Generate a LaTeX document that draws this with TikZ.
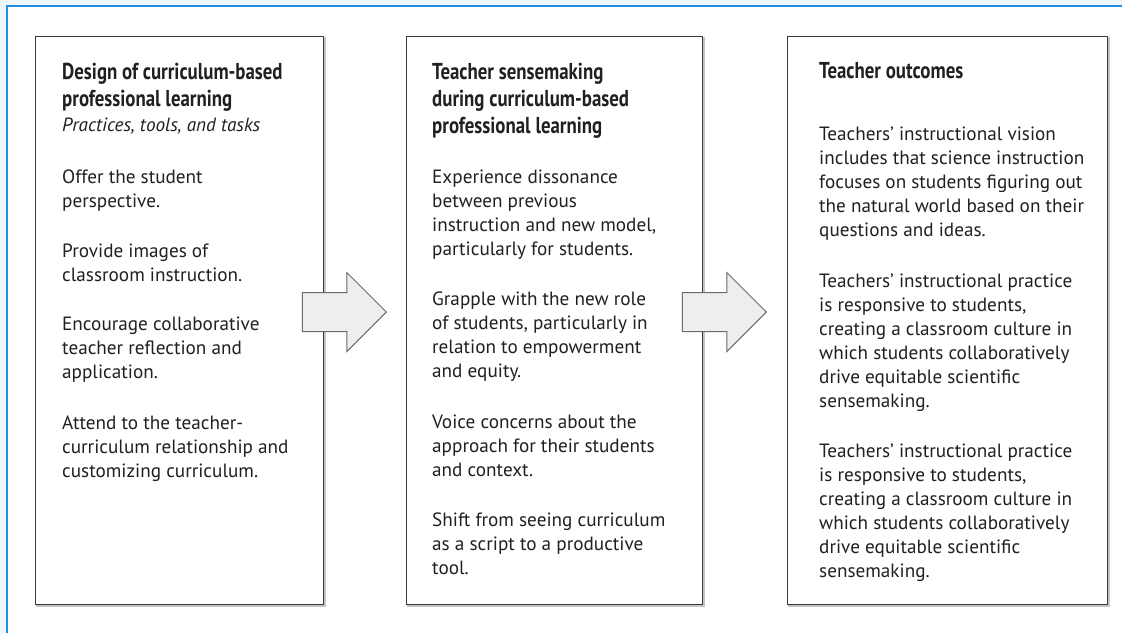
\documentclass[tikz,border=0pt]{standalone}
\usepackage{fontspec}
\setmainfont{PT Sans}
\newfontfamily\titlefont[FakeStretch=0.82]{PT Sans}
\usetikzlibrary{shapes.arrows}
\definecolor{bgblue}{HTML}{EEF6FD}
\definecolor{frameblue}{HTML}{2490DB}
\definecolor{boxline}{HTML}{3A3A3A}
\definecolor{shadowgray}{HTML}{C4C4C4}
\definecolor{arrowfill}{HTML}{EEEEEE}
\definecolor{arrowline}{HTML}{6B6B6B}
\definecolor{textcol}{HTML}{231F20}
\tikzset{
  panel/.style={draw=boxline, line width=1.3pt, fill=white, inner sep=0pt, anchor=north west,
    minimum height=568pt,
    preaction={draw=shadowgray, line width=1.3pt, transform canvas={shift={(1.3pt,-1.3pt)}}}},
  blockarrow/.style={single arrow, draw=arrowline, fill=arrowfill, line width=1pt,
    minimum width=78pt, minimum height=84pt, single arrow head extend=20pt,
    single arrow tip angle=90, inner xsep=0pt, inner ysep=19pt, anchor=tip},
  ttl/.style={anchor=north west, inner sep=0pt, align=left, text=textcol,
    font=\titlefont\bfseries\fontsize{23}{27}\selectfont},
  sub/.style={anchor=north west, inner sep=0pt, align=left, text=textcol,
    font=\itshape\fontsize{19.2}{24}\selectfont},
  para/.style={anchor=north west, inner sep=0pt, align=left, text=textcol,
    font=\fontsize{19.2}{24}\selectfont},
}
\begin{document}
\begin{tikzpicture}[x=1pt,y=-1pt]
\useasboundingbox (0,0) rectangle (1122,633);
\fill[bgblue] (0,0) rectangle (1122,633);
\fill[white] (7,6) rectangle (1122,633);
\draw[frameblue, line width=1.5pt] (7,633) -- (7,6) -- (1122,6);

% panels
\node[panel, minimum width=288pt] (b1) at (35,36) {};
\node[panel, minimum width=296pt] (b2) at (406,36) {};
\node[panel, minimum width=320pt] (b3) at (787,36) {};

% arrows
\node[blockarrow] (a1) at (387,312) {};
\node[blockarrow] (a2) at (767,312) {};

% box 1 text
\node[ttl] (t1) at (62,60.1) {\strut Design of curriculum-based\\professional learning};
\node[sub] (s1) at (62,114.2) {\strut Practices, tools, and tasks};
\node[para] (p11) at (62,166.2) {\strut Offer the student\\perspective.};
\node[para] (p12) at (62,240.2) {\strut Provide images of\\classroom instruction.};
\node[para] (p13) at (62,313.2) {\strut Encourage collaborative\\teacher reflection and\\application.};
\node[para] (p14) at (62,412.2) {\strut Attend to the teacher-\\curriculum relationship and\\customizing curriculum.};

% box 2 text
\node[ttl] (t2) at (432,60.1) {\strut Teacher sensemaking\\during curriculum-based\\professional learning};
\node[para] (p21) at (432,166.2) {\strut Experience dissonance\\between previous\\instruction and new model,\\particularly for students.};
\node[para] (p22) at (432,288.2) {\strut Grapple with the new role\\of students, particularly in\\relation to empowerment\\and equity.};
\node[para] (p23) at (432,411.2) {\strut Voice concerns about the\\approach for their students\\and context.};
\node[para] (p24) at (432,509.2) {\strut Shift from seeing curriculum\\as a script to a productive\\tool.};

% box 3 text
\node[ttl] (t3) at (819,59.1) {\strut Teacher outcomes};
\node[para] (p31) at (819,123.2) {\strut Teachers’ instructional vision\\includes that science instruction\\focuses on students figuring out\\the natural world based on their\\questions and ideas.};
\node[para] (p32) at (819,270.2) {\strut Teachers’ instructional practice\\is responsive to students,\\creating a classroom culture in\\which students collaboratively\\drive equitable scientific\\sensemaking.};
\node[para] (p33) at (819,440.2) {\strut Teachers’ instructional practice\\is responsive to students,\\creating a classroom culture in\\which students collaboratively\\drive equitable scientific\\sensemaking.};
\end{tikzpicture}
\end{document}
